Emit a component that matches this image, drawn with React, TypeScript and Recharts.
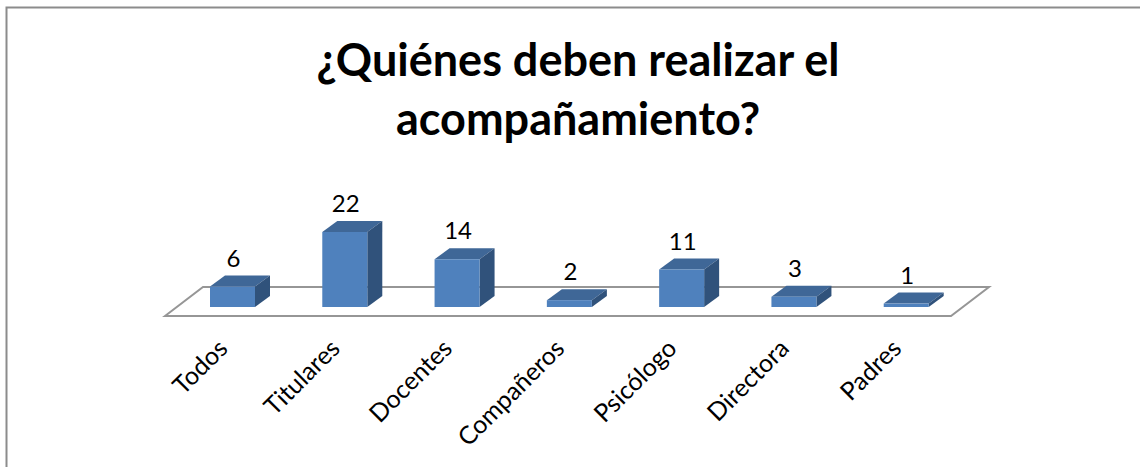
import React from 'react';
import { BarChart, Bar, XAxis, YAxis, LabelList } from 'recharts';

const categories = ['Todos', 'Titulares', 'Docentes', 'Compañeros', 'Psicólogo', 'Directora', 'Padres'];
const values = [6, 22, 14, 2, 11, 3, 1];
const titleLines = ['¿Quiénes deben realizar el', 'acompañamiento?'];

const tableData = categories.map((name, i) => ({ name, value: values[i] }));

const WIDTH = 1140;
const HEIGHT = 467;
const FONT = 'Lato, "Open Sans", sans-serif';
const DEPTH_X = 15;
const DEPTH_Y = 11;
const margin = { top: 232, right: 178, bottom: 0, left: 176 };
const baseY = 307;

const Bar3D = (props: any) => {
    const { x, y, width, height } = props;
    const r = x + width;
    const b = y + height;
    return (
        <g>
            <polygon
                points={`${x},${y} ${x + DEPTH_X},${y - DEPTH_Y} ${r + DEPTH_X},${y - DEPTH_Y} ${r},${y}`}
                fill="#3F6797"
            />
            <polygon
                points={`${r},${y} ${r + DEPTH_X},${y - DEPTH_Y} ${r + DEPTH_X},${b - DEPTH_Y} ${r},${b}`}
                fill="#30527B"
            />
            <rect x={x} y={y} width={width} height={height} fill="#4F81BD" />
        </g>
    );
};

const AngledTick = (props: any) => {
    const { x, y, payload } = props;
    return (
        <text
            transform={`translate(${x - 3},${y + 35}) rotate(-45)`}
            textAnchor="end"
            fontFamily={FONT}
            fontSize={25}
            fill="#000"
        >
            {payload.value}
        </text>
    );
};

const ValueLabel = (props: any) => {
    const { x, y, width, value } = props;
    return (
        <text x={x + width / 2 + 1} y={y - 20} textAnchor="middle" fontFamily={FONT} fontSize={24} fill="#000">
            {value}
        </text>
    );
};

const App: React.FC = () => {
    return (
        <div
            style={{
                position: 'absolute',
                left: 0,
                top: 0,
                width: WIDTH,
                height: HEIGHT,
                overflow: 'hidden',
                background: '#fff',
            }}
        >
            <BarChart width={WIDTH} height={HEIGHT} data={tableData} margin={margin}>
                <path d="M6.5 467 V7.5 H1140" fill="none" stroke="#8c8c8c" strokeWidth={2} />
                <polygon points="165,316 203,287 989,287 951,316" fill="none" stroke="#969696" strokeWidth={2} />
                {titleLines.map((line, i) => (
                    <text
                        key={line}
                        x={578}
                        y={76 + i * 58.5}
                        textAnchor="middle"
                        fontFamily={FONT}
                        fontWeight={700}
                        fontSize={45}
                        fill="#000"
                    >
                        {line}
                    </text>
                ))}
                <XAxis
                    dataKey="name"
                    interval={0}
                    height={HEIGHT - baseY}
                    axisLine={false}
                    tickLine={false}
                    tick={<AngledTick />}
                />
                <YAxis hide domain={[0, 22]} />
                <Bar dataKey="value" barSize={45} shape={<Bar3D />} isAnimationActive={false}>
                    <LabelList dataKey="value" content={<ValueLabel />} />
                </Bar>
            </BarChart>
        </div>
    );
};

export default App;
